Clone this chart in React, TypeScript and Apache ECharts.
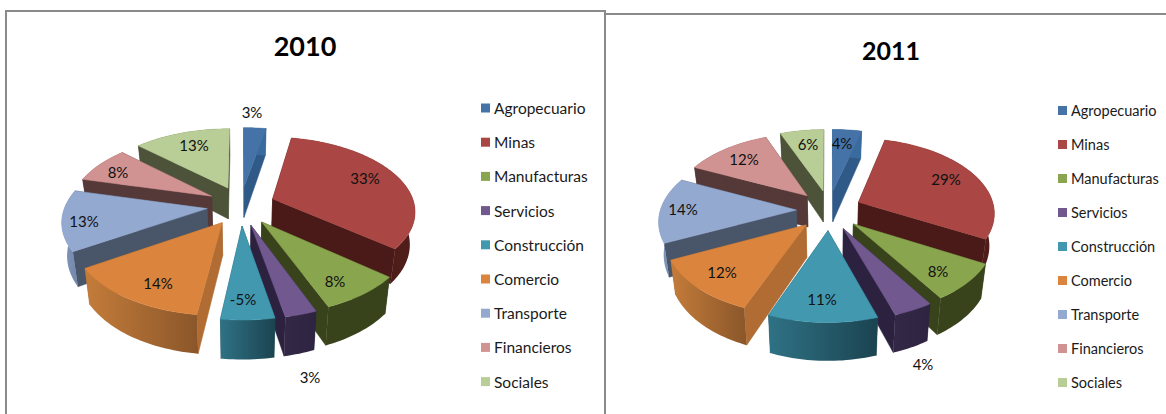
import React, { useEffect, useRef } from "react";
import * as echarts from "echarts";

const categories = ["Agropecuario", "Minas", "Manufacturas", "Servicios", "Construcción", "Comercio", "Transporte", "Financieros", "Sociales"];
const values2010 = [3, 33, 8, 3, 5, 14, 13, 8, 13];
const labels2010 = ["3%", "33%", "8%", "3%", "-5%", "14%", "13%", "8%", "13%"];
const values2011 = [4, 29, 8, 4, 11, 12, 14, 12, 6];
const labels2011 = ["4%", "29%", "8%", "4%", "11%", "12%", "14%", "12%", "6%"];

const topColors = ["#4573A7", "#AA4643", "#89A54E", "#71588F", "#4198AF", "#DB843D", "#93A9CF", "#D19392", "#B9CD96"];
const wallColors = ["#2F5A88", "#4A1A18", "#38431C", "#2C2240", "#1F5060", "#B06C32", "#495569", "#553838", "#4C5339"];
const outerFrom = ["#3A6B9E", "#4A1A18", "#38431C", "#332845", "#2F7285", "#C47C3A", "#8497BB", "#553838", "#4C5339"];
const outerTo = ["#3A6B9E", "#4F1D1A", "#38431C", "#2E2340", "#1B4350", "#8A562A", "#6F83A8", "#553838", "#4C5339"];

const labelOffsets2010 = [[11, -93], [124, -27], [94, 76], [69, 172], [2, 94], [-83, 78], [-157, 16], [-123, -33], [-47, -60]];
const labelOffsets2011 = [[13, -66], [117, -30], [109, 62], [94, 155], [-7, 90], [-107, 63], [-146, 0], [-85, -50], [-21, -65]];

const FONT = "Lato";

type Cfg = {
  title: string; titleX: number; titleY: number; titleSize: number;
  values: number[]; labels: string[]; labelOffsets: number[][];
  cx: number; cy: number; labelCy: number; R: number; Ry: number; P: number; D: number;
  legendX: number; legendY: number; legendGap: number; legendFont: number;
};

function buildOption(c: Cfg) {
  const Ex = 0.24, Ey = 0.27;
  const total = c.values.reduce((a, b) => a + b, 0);
  const w = (Y: number) => 1 / (1 - c.P * Y);
  const topPt = (X: number, Y: number) => [c.cx + c.R * X * w(Y), c.cy + c.Ry * Y * w(Y)];
  const botPt = (X: number, Y: number) => {
    const p = topPt(X, Y);
    return [c.cx + (p[0] - c.cx) * 0.97, p[1] + c.D * w(Y)];
  };
  let acc = 0;
  const slices = c.values.map((v, i) => {
    const a0 = (acc / total) * 2 * Math.PI;
    acc += v;
    const a1 = (acc / total) * 2 * Math.PI;
    const mid = (a0 + a1) / 2;
    return { i, a0, a1, mid, ox: Ex * Math.sin(mid), oy: -Ey * Math.cos(mid) };
  });
  const order = [...slices].sort((a, b) => -Math.cos(a.mid) - -Math.cos(b.mid)).map((s) => s.i);

  const series: any[] = categories.map((name, i) => ({
    type: "custom",
    name,
    coordinateSystem: "none",
    z: 2 + order.indexOf(i),
    itemStyle: { color: topColors[i] },
    data: [[c.values[i]]],
    silent: true,
    renderItem: () => {
      const s = slices[i];
      const steps = Math.max(6, Math.round((s.a1 - s.a0) * 40));
      const arc: number[][] = [];
      for (let k = 0; k <= steps; k++) {
        const a = s.a0 + ((s.a1 - s.a0) * k) / steps;
        arc.push([s.ox + Math.sin(a), s.oy - Math.cos(a)]);
      }
      const tip = [s.ox, s.oy];
      const T = (q: number[]) => topPt(q[0], q[1]);
      const B = (q: number[]) => botPt(q[0], q[1]);
      const first = arc[0], last = arc[arc.length - 1];
      const children: any[] = [];
      const wall = (a: number[], b: number[]) => ({
        type: "polygon",
        shape: { points: [T(a), T(b), B(b), B(a)] },
        style: { fill: wallColors[i], stroke: wallColors[i], lineWidth: 0.5 },
      });
      children.push(wall(tip, first));
      children.push(wall(tip, last));
      const outerPts = [...arc.map(T), ...arc.map(B).reverse()];
      children.push({
        type: "polygon",
        shape: { points: outerPts },
        style: {
          fill: new echarts.graphic.LinearGradient(0, 0, 1, 0, [
            { offset: 0, color: outerFrom[i] },
            { offset: 1, color: outerTo[i] },
          ]),
        },
      });
      children.push({
        type: "polygon",
        shape: { points: [T(tip), ...arc.map(T)] },
        style: { fill: topColors[i], stroke: topColors[i], lineWidth: 0.5 },
      });
      return { type: "group", children };
    },
  }));

  series.push({
    type: "custom",
    name: "labels",
    coordinateSystem: "none",
    z: 30,
    silent: true,
    data: c.labels.map((l, i) => [i]),
    renderItem: (_p: any, api: any) => {
      const i = api.value(0);
      return {
        type: "text",
        x: c.cx + c.labelOffsets[i][0],
        y: c.labelCy + c.labelOffsets[i][1],
        style: { text: c.labels[i], fontFamily: FONT, fontSize: 15, fill: "#111", align: "center", verticalAlign: "middle" },
      };
    },
  });

  return {
    animation: false,
    title: {
      text: c.title,
      left: c.titleX,
      top: c.titleY,
      textAlign: "center",
      textStyle: { fontFamily: FONT, fontSize: c.titleSize, fontWeight: "bold", color: "#000" },
    },
    legend: {
      data: categories,
      orient: "vertical",
      left: c.legendX,
      top: c.legendY,
      icon: "rect",
      itemWidth: 9,
      itemHeight: 9,
      itemGap: c.legendGap,
      selectedMode: false,
      padding: 0,
      textStyle: { fontFamily: FONT, fontSize: c.legendFont, color: "#1a1a1a", padding: [0, 0, 0, -1] },
    },
    series,
  };
}

function Pie({ cfg, left, width }: { cfg: Cfg; left: number; width: number }) {
  const ref = useRef<HTMLDivElement>(null);
  useEffect(() => {
    const chart = echarts.init(ref.current!, null, { renderer: "svg" });
    chart.setOption(buildOption(cfg));
    return () => chart.dispose();
  }, []);
  return <div ref={ref} style={{ position: "absolute", left, top: 0, width, height: 414 }} />;
}

const line = "#8a8a8a";
export default function App() {
  useEffect(() => {
    document.body.style.margin = "0";
    document.body.style.background = "#fff";
  }, []);
  return (
    <div style={{ position: "absolute", left: 0, top: 0, width: 1166, height: 414, overflow: "hidden", background: "#fff" }}>
      <Pie left={0} width={606} cfg={{ title: "2010", titleX: 300, titleY: 27, titleSize: 27, values: values2010, labels: labels2010, labelOffsets: labelOffsets2010, cx: 241, cy: 205.5, labelCy: 205, R: 142, Ry: 73, P: 0.15, D: 32, legendX: 481, legendY: 100, legendGap: 18.2, legendFont: 15.5 }} />
      <Pie left={606} width={560} cfg={{ title: "2011", titleX: 280, titleY: 32, titleSize: 25, values: values2011, labels: labels2011, labelOffsets: labelOffsets2011, cx: 223, cy: 210, labelCy: 209, R: 136, Ry: 74, P: 0.13, D: 32, legendX: 452, legendY: 103, legendGap: 19, legendFont: 14.5 }} />
      <div style={{ position: "absolute", left: 5, top: 10, width: 601, height: 2, background: line }} />
      <div style={{ position: "absolute", left: 5, top: 10, width: 2, height: 404, background: line }} />
      <div style={{ position: "absolute", left: 604, top: 10, width: 2, height: 404, background: line }} />
      <div style={{ position: "absolute", left: 606, top: 13, width: 560, height: 2, background: line }} />
    </div>
  );
}
